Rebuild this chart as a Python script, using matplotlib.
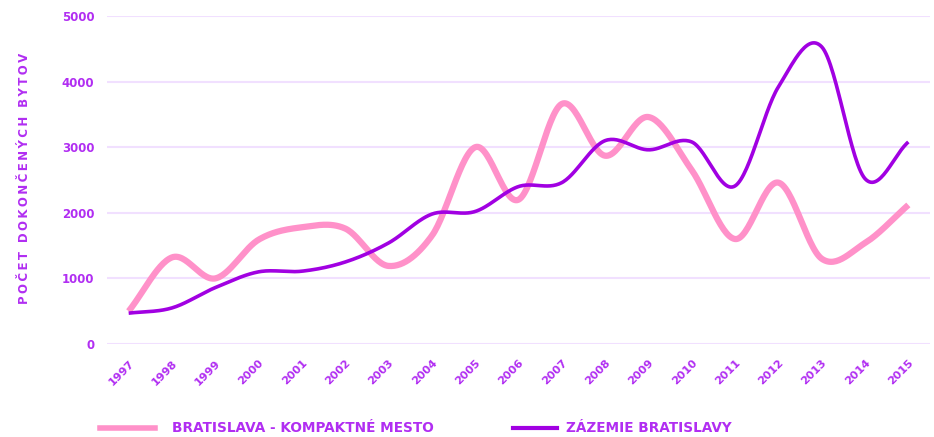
import matplotlib.pyplot as plt
from matplotlib.lines import Line2D
import numpy as np

PINK = "#FF91C9"
PURPLE = "#A100E2"
TEXT_PURPLE = "#B12EF2"
GRID_LIGHT = "#F1E0FF"

years = list(range(1997, 2016))
bratislava = [500, 1320, 1000, 1590, 1780, 1760, 1190, 1650, 3000, 2200, 3660,
              2870, 3460, 2650, 1600, 2460, 1300, 1540, 2120]
zazemie = [470, 550, 860, 1100, 1110, 1250, 1540, 1980, 2020, 2400, 2460,
           3100, 2960, 3080, 2410, 3920, 4530, 2520, 3080]

series_labels = ["BRATISLAVA - KOMPAKTNÉ MESTO", "ZÁZEMIE BRATISLAVY"]
y_title = "POČET DOKONČENÝCH BYTOV"
y_ticks = [0, 1000, 2000, 3000, 4000, 5000]


def smooth(xs, ys, steps=30):
    # cardinal spline through the points, just for the curved look
    xs = np.asarray(xs, float)
    ys = np.asarray(ys, float)
    n = len(xs)
    m = np.zeros(n)
    m[1:-1] = (ys[2:] - ys[:-2]) / 2
    m[0] = ys[1] - ys[0]
    m[-1] = ys[-1] - ys[-2]
    out_x, out_y = [], []
    for i in range(n - 1):
        t = np.linspace(0, 1, steps, endpoint=False)
        h00 = 2 * t**3 - 3 * t**2 + 1
        h10 = t**3 - 2 * t**2 + t
        h01 = -2 * t**3 + 3 * t**2
        h11 = t**3 - t**2
        out_x.extend(xs[i] + t * (xs[i + 1] - xs[i]))
        out_y.extend(h00 * ys[i] + h10 * m[i] + h01 * ys[i + 1] + h11 * m[i + 1])
    out_x.append(xs[-1])
    out_y.append(ys[-1])
    return np.array(out_x), np.array(out_y)


W, H = 934, 437
fig = plt.figure(figsize=(W / 100, H / 100), dpi=100)
ax = fig.add_axes([107 / W, 1 - 344 / H, (930 - 107) / W, (344 - 16) / H])

sx, sy = smooth(years, bratislava)
ax.plot(sx, sy, color=PINK, linewidth=4.5, solid_capstyle="butt")
sx, sy = smooth(years, zazemie)
ax.plot(sx, sy, color=PURPLE, linewidth=2.6, solid_capstyle="butt")

ax.set_xlim(1996.5, 2015.5)
ax.set_ylim(0, 5000)
ax.set_yticks(y_ticks)
ax.set_yticklabels([str(v) for v in y_ticks], fontsize=8.5, fontweight="bold", color=TEXT_PURPLE)
ax.set_xticks(years)
ax.set_xticklabels([str(y) for y in years], rotation=45, ha="right", rotation_mode="anchor",
                   fontsize=8, fontweight="bold", color=TEXT_PURPLE)
ax.tick_params(axis="both", length=0)
ax.tick_params(axis="y", pad=9)
ax.tick_params(axis="x", pad=10)
ax.grid(axis="y", color=GRID_LIGHT, linewidth=1.5)
ax.set_axisbelow(True)
for spine in ax.spines.values():
    spine.set_visible(False)

# spaced-out axis title
fig.text(25 / W, 1 - 178 / H, "\u2009".join(y_title), rotation=90, ha="center", va="center",
         fontsize=8.5, fontweight="bold", color=TEXT_PURPLE)

# legend drawn by hand so handle lengths match
leg_y = 1 - 428 / H
fig.add_artist(Line2D([100 / W, 155 / W], [leg_y, leg_y], color=PINK, linewidth=4, transform=fig.transFigure))
fig.text(172 / W, leg_y, series_labels[0], ha="left", va="center", fontsize=9.8,
         fontweight="bold", color=TEXT_PURPLE)
fig.add_artist(Line2D([513 / W, 557 / W], [leg_y, leg_y], color=PURPLE, linewidth=3, transform=fig.transFigure))
fig.text(566 / W, leg_y, series_labels[1], ha="left", va="center", fontsize=9.8,
         fontweight="bold", color=TEXT_PURPLE)

fig.savefig("out.png", dpi=100, facecolor="white")
